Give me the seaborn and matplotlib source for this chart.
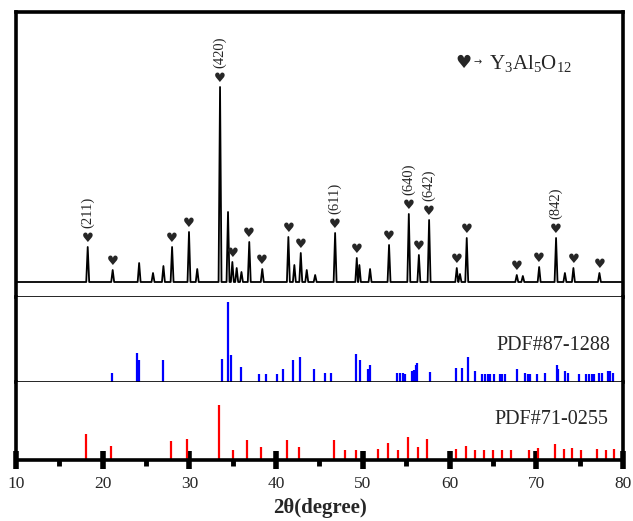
import numpy as np
import pandas as pd
import matplotlib
matplotlib.use("Agg")
import matplotlib.pyplot as plt
import seaborn as sns
from matplotlib.ticker import MultipleLocator

# ---------------- data ----------------
# measured pattern: peak positions (2θ) and intensities (a.u.)
peak_pos = [18.27, 21.15, 24.2, 25.8, 27.0, 28.0, 29.95, 30.9, 33.53, 34.45,
            34.95, 35.45, 36.0, 36.9, 38.4, 41.41, 42.1, 42.84, 43.53, 44.5,
            46.8, 49.3, 49.6, 50.83, 53.02, 55.3, 56.46, 57.64, 60.83, 61.2,
            61.98, 67.75, 68.45, 70.33, 72.28, 73.3, 74.28, 77.28]
peak_int = [35, 12, 19, 9, 16, 35, 50, 13, 195, 70,
            20, 14, 10, 40, 13, 45, 17, 29, 12, 7,
            49, 24, 17, 13, 37, 68, 27, 62, 14, 8,
            44, 7, 6, 15, 44, 9, 14, 9]

# Y3Al5O12 marked peaks
heart_pos = [18.27, 21.15, 28.0, 29.95, 33.53, 34.95, 36.9, 38.4, 41.41, 42.84,
             46.8, 49.3, 53.02, 55.3, 56.46, 57.64, 60.83, 61.98, 67.75, 70.33,
             72.28, 74.28, 77.28]
hkl_pos = [18.27, 33.53, 46.8, 55.3, 57.64, 72.28]
hkl_text = ["(211)", "(420)", "(611)", "(640)", "(642)", "(842)"]

# PDF#87-1288 (blue sticks)
pdf1_pos = [21.03, 24.0, 24.23, 26.95, 33.72, 34.42, 34.77, 35.96, 38.07, 38.8,
            40.06, 40.76, 41.99, 42.8, 44.35, 45.64, 46.3, 49.22, 49.64, 50.64,
            50.87, 53.91, 54.29, 54.67, 54.86, 55.64, 55.9, 56.13, 56.3, 57.69,
            60.76, 61.42, 62.07, 62.96, 63.7, 64.1, 64.4, 64.7, 65.1, 65.8,
            66.1, 66.4, 67.83, 68.7, 69.0, 69.3, 70.1, 71.0, 72.36, 72.55,
            73.3, 73.6, 74.9, 75.7, 76.1, 76.4, 76.7, 77.2, 77.6, 78.3,
            78.55, 78.8]
pdf1_int = [11, 36, 28, 28, 29, 100, 34, 19, 10, 10,
            10, 16, 28, 31, 16, 11, 11, 35, 28, 16,
            21, 11, 11, 11, 10, 14, 15, 21, 24, 12,
            18, 18, 31, 14, 10, 10, 10, 10, 10, 10,
            10, 10, 16, 11, 10, 10, 10, 11, 21, 16,
            14, 11, 10, 10, 10, 10, 10, 11, 11, 14,
            14, 11]

# PDF#71-0255 (red sticks)
pdf2_pos = [18.11, 20.92, 27.84, 29.76, 33.38, 35.07, 36.68, 38.26, 41.22, 42.64,
            46.68, 47.91, 49.22, 51.72, 52.87, 54.06, 55.18, 56.37, 57.44, 60.76,
            61.87, 62.94, 63.98, 65.05, 66.1, 67.13, 69.13, 70.17, 72.2, 73.17,
            74.13, 75.13, 77.05, 78.05, 79.0]
pdf2_int = [47, 25, 34, 39, 100, 19, 36, 24, 36, 23,
            36, 18, 18, 20, 31, 18, 42, 24, 39, 20,
            25, 18, 18, 18, 18, 18, 18, 22, 29, 20,
            22, 18, 20, 18, 20]

pdf_labels = ["PDF#87-1288", "PDF#71-0255"]
x_ticks = [10, 20, 30, 40, 50, 60, 70, 80]
x_label = "2θ(degree)"

# ---------------- build pattern line ----------------
hw = 0.17
xs, ys = [10.0], [0.0]
for p, h in sorted(zip(peak_pos, peak_int)):
    xs += [p - hw, p, p + hw]
    ys += [0.0, h, 0.0]
xs.append(80.0)
ys.append(0.0)
df = pd.DataFrame({"x": xs, "y": ys}).sort_values("x", kind="stable")
int_of = dict(zip(peak_pos, peak_int))

# ---------------- style ----------------
sns.set_theme(style="white")
plt.rcParams["font.family"] = ["Liberation Serif", "DejaVu Sans"]
plt.rcParams["mathtext.fontset"] = "custom"
plt.rcParams["mathtext.rm"] = "Liberation Serif"
plt.rcParams["mathtext.it"] = "Liberation Serif:italic"
plt.rcParams["axes.edgecolor"] = "black"

fig = plt.figure(figsize=(6.33, 5.21), dpi=100)
L, W = 16 / 633, 607 / 633
ax1 = fig.add_axes([L, 1 - 297 / 521, W, 285 / 521])
ax2 = fig.add_axes([L, 1 - 382 / 521, W, 85 / 521])
ax3 = fig.add_axes([L, 1 - 460 / 521, W, 78 / 521])

thick, thin = 2.6, 1.2

# top: measured pattern
sns.lineplot(data=df, x="x", y="y", ax=ax1, color="black", linewidth=1.3,
             estimator=None, sort=False)
ax1.set_ylim(-15, 270)
for p in heart_pos:
    ax1.annotate("♥", xy=(p, int_of[p]), xytext=(0, 6), textcoords="offset points",
                 ha="center", va="center", fontsize=9.5, family=["DejaVu Sans"])
for p, t in zip(hkl_pos, hkl_text):
    ax1.annotate(t, xy=(p, int_of[p]), xytext=(0, 14), textcoords="offset points",
                 ha="center", va="bottom", rotation=90, fontsize=10.5)
ax1.text(0.737, 0.82, "♥", transform=ax1.transAxes, ha="center", va="center",
         fontsize=13, family=["DejaVu Sans"])
ax1.text(0.761, 0.822, "→", transform=ax1.transAxes, ha="center", va="center",
         fontsize=7, family=["DejaVu Sans"])
ax1.text(0.779, 0.80, "Y$_3$Al$_5$O$_{12}$", transform=ax1.transAxes,
         ha="left", va="baseline", fontsize=15)

# middle: PDF#87-1288
ax2.vlines(pdf1_pos, 0, pdf1_int, color=(0, 0, 1), linewidth=1.6)
ax2.set_ylim(0, 106)
ax2.text(0.979, 0.376, pdf_labels[0], transform=ax2.transAxes, ha="right",
         va="baseline", fontsize=14.5)

# bottom: PDF#71-0255
ax3.vlines(pdf2_pos, 0, pdf2_int, color=(1, 0, 0), linewidth=1.6)
ax3.set_ylim(0, 142)
ax3.text(0.975, 0.458, pdf_labels[1], transform=ax3.transAxes, ha="right",
         va="baseline", fontsize=14.5)

for ax in (ax1, ax2, ax3):
    ax.set_xlim(10, 80)
    ax.set_yticks([])
    ax.set_ylabel("")
    ax.set_xlabel("")
    for s in ax.spines.values():
        s.set_color("black")
    ax.spines["left"].set_linewidth(thick)
    ax.spines["right"].set_linewidth(thick)

ax1.spines["top"].set_linewidth(thick)
ax1.spines["bottom"].set_linewidth(thin)
ax2.spines["top"].set_visible(False)
ax2.spines["bottom"].set_linewidth(thin)
ax3.spines["top"].set_visible(False)
ax3.spines["bottom"].set_linewidth(thick)

for ax in (ax1, ax2):
    ax.set_xticks([])

ax3.set_xticks(x_ticks)
ax3.xaxis.set_minor_locator(MultipleLocator(5))
ax3.tick_params(axis="x", which="major", direction="inout", length=13, width=4,
                pad=5, labelsize=12.5, color="black", bottom=True)
ax3.tick_params(axis="x", which="minor", direction="out", length=4, width=3.5,
                color="black", bottom=True)
ax3.set_xlabel(x_label, fontsize=15, fontweight="bold", labelpad=4)

fig.savefig("out.png", dpi=100)
